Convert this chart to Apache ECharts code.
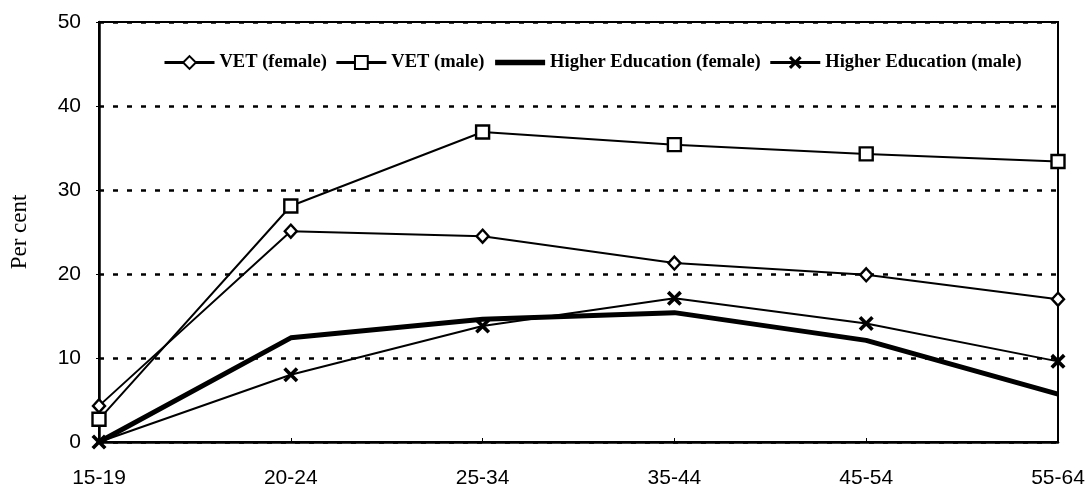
<!DOCTYPE html>
<html>
<head>
<meta charset="utf-8">
<script src="https://cdn.jsdelivr.net/npm/echarts@6/dist/echarts.min.js"></script>
<style>
html,body{margin:0;padding:0;background:#fff;}
#chart{width:1092px;height:492px;}
</style>
</head>
<body>
<div id="chart"></div>
<script>
const categories = ['15-19', '20-24', '25-34', '35-44', '45-54', '55-64'];
const vetFemale = [4.3, 25.1, 24.5, 21.3, 19.9, 17.0];
const vetMale = [2.7, 28.1, 36.9, 35.4, 34.3, 33.4];
const heFemale = [0, 12.4, 14.6, 15.4, 12.1, 5.7];
const heMale = [0, 8.0, 13.8, 17.1, 14.1, 9.6];
const seriesNames = ['VET (female)', 'VET (male)', 'Higher Education (female)', 'Higher Education (male)'];

const xPath = 'path://M0,1.7L1.7,0L5,3.3L8.3,0L10,1.7L6.7,5L10,8.3L8.3,10L5,6.7L1.7,10L0,8.3L3.3,5Z';

const chart = echarts.init(document.getElementById('chart'), null, {renderer: 'canvas'});
chart.setOption({
  animation: false,
  backgroundColor: '#fff',
  grid: {left: 99, right: 34, top: 22, bottom: 50, show: true, borderColor: '#000', borderWidth: 2},
  legend: {
    left: 158, top: 48,
    itemWidth: 50, itemHeight: 16, itemGap: 8,
    lineStyle: {width: 3},
    textStyle: {fontFamily: 'Liberation Serif', fontWeight: 'bold', fontSize: 18.5, color: '#000'},
    data: [
      {name: seriesNames[0], lineStyle: {width: 3}},
      {name: seriesNames[1], lineStyle: {width: 3}},
      {name: seriesNames[2], lineStyle: {width: 5.5}, itemStyle: {opacity: 0}},
      {name: seriesNames[3], lineStyle: {width: 3}}
    ]
  },
  xAxis: {
    type: 'category', data: categories, boundaryGap: false,
    axisLine: {lineStyle: {color: '#000', width: 2.5}},
    axisTick: {show: true, inside: true, length: 4, lineStyle: {color: '#000', width: 1}},
    axisLabel: {fontFamily: 'Liberation Sans', fontSize: 21, color: '#000', margin: 26},
    splitLine: {show: false}
  },
  yAxis: {
    type: 'value', min: 0, max: 50, interval: 10,
    name: 'Per cent', nameLocation: 'middle', nameGap: 68, nameRotate: 90,
    nameTextStyle: {fontFamily: 'Liberation Serif', fontSize: 23, color: '#000'},
    axisLine: {show: true, lineStyle: {color: '#000', width: 2.5}},
    axisTick: {show: true, length: 3, lineStyle: {color: '#000', width: 1}},
    axisLabel: {fontFamily: 'Liberation Sans', fontSize: 21, color: '#000', margin: 18},
    splitLine: {show: true, lineStyle: {color: '#000', width: 2.5, type: [5, 9]}}
  },
  series: [
    {
      name: seriesNames[0], type: 'line', data: vetFemale, clip: false,
      symbol: 'diamond', symbolSize: [12, 13],
      lineStyle: {color: '#000', width: 2},
      itemStyle: {color: '#fff', borderColor: '#000', borderWidth: 2.4}, z: 4
    },
    {
      name: seriesNames[1], type: 'line', data: vetMale, clip: false,
      symbol: 'rect', symbolSize: 13,
      lineStyle: {color: '#000', width: 2},
      itemStyle: {color: '#fff', borderColor: '#000', borderWidth: 2.4}, z: 4
    },
    {
      name: seriesNames[2], type: 'line', data: heFemale, clip: false,
      symbol: 'none', showSymbol: false,
      lineStyle: {color: '#000', width: 5},
      itemStyle: {color: '#000'}, z: 3
    },
    {
      name: seriesNames[3], type: 'line', data: heMale, clip: false,
      symbol: xPath, symbolSize: 15,
      lineStyle: {color: '#000', width: 2},
      itemStyle: {color: '#000'}, z: 4
    }
  ]
});
</script>
</body>
</html>
